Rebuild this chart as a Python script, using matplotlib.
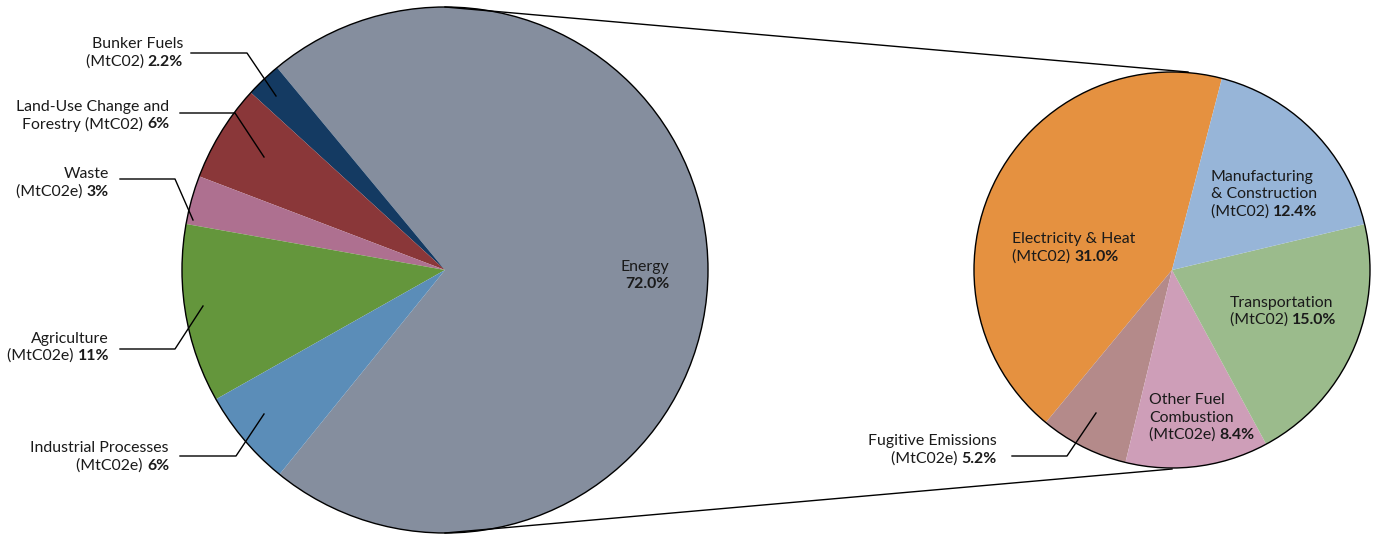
import matplotlib
matplotlib.use("Agg")
import matplotlib.pyplot as plt
from matplotlib.patches import Circle

plt.rcParams['font.family'] = ['Lato', 'DejaVu Sans']

W, H = 1374, 534

# left pie: all sectors
left_names = ['Energy', 'Bunker Fuels', 'Land-Use Change and', 'Waste',
              'Agriculture', 'Industrial Processes']
left_units = ['', '(MtC02)', 'Forestry (MtC02)', '(MtC02e)', '(MtC02e)', '(MtC02e)']
left_vals = [72.0, 2.2, 6, 3, 11, 6]
left_pcts = ['72.0%', '2.2%', '6%', '3%', '11%', '6%']
left_colors = ['#858e9e', '#143a62', '#8a3739', '#ae7090', '#64963c', '#5b8db8']

# right pie: energy breakdown
right_names = ['Electricity & Heat', 'Fugitive Emissions', 'Other Fuel\nCombustion',
               'Transportation', 'Manufacturing\n& Construction']
right_units = ['(MtC02)', '(MtC02e)', '(MtC02e)', '(MtC02)', '(MtC02)']
right_vals = [31.0, 5.2, 8.4, 15.0, 12.4]
right_pcts = ['31.0%', '5.2%', '8.4%', '15.0%', '12.4%']
right_colors = ['#e59140', '#b48a8a', '#ce9eb8', '#9bbb8c', '#97b5d8']

fig = plt.figure(figsize=(W / 100, H / 100), dpi=100)
ax = fig.add_axes([0, 0, 1, 1])

def Y(y):
    return H - y

lc, lr = (445, 270), 263
rc, rr = (1172, 270), 198

ax.pie(left_vals, colors=left_colors, startangle=231, center=(lc[0], Y(lc[1])),
       radius=lr, wedgeprops=dict(linewidth=0))
ax.pie(right_vals, colors=right_colors, startangle=75.4, center=(rc[0], Y(rc[1])),
       radius=rr, wedgeprops=dict(linewidth=0))
ax.add_patch(Circle((lc[0], Y(lc[1])), lr, fill=False, ec='black', lw=1))
ax.add_patch(Circle((rc[0], Y(rc[1])), rr, fill=False, ec='black', lw=1))

# connector lines between the pies
ax.plot([445, 1188], [Y(7), Y(72)], color='black', lw=1)
ax.plot([445, 1172], [Y(533), Y(469)], color='black', lw=1)

ax.set_xlim(0, W)
ax.set_ylim(0, H)
ax.axis('off')

FS = 11.4
TC = '#1a1a1a'
LS = 17.5


def label(x, y_last, name, unit, pct, ha):
    # y_last: pixel center of the last line
    lines = name.split('\n') if unit else []
    if not unit:
        lines = [name]
    n = len(lines)
    for i, ln in enumerate(lines):
        yy = y_last - (n - i) * LS
        ax.text(x, Y(yy), ln, ha=ha, va='center', fontsize=FS, color=TC)
    if ha == 'right':
        b = ax.text(x, Y(y_last), pct, ha='right', va='center', fontsize=FS,
                    fontweight='bold', color=TC)
        if unit:
            ax.annotate(unit + ' ', xy=(0, 0.5), xycoords=b, ha='right', va='center',
                        fontsize=FS, color=TC)
    else:
        u = ax.text(x, Y(y_last), unit + ' ', ha='left', va='center', fontsize=FS, color=TC)
        ax.annotate(pct, xy=(1, 0.5), xycoords=u, ha='left', va='center',
                    fontsize=FS, fontweight='bold', color=TC)


def leader(pts):
    ax.plot([p[0] for p in pts], [Y(p[1]) for p in pts], color='black', lw=1)


# left pie labels
label(669, 284, left_names[0], left_units[0], left_pcts[0], 'right')
label(183, 62, left_names[1], left_units[1], left_pcts[1], 'right')
leader([(191, 53), (247, 53), (276, 96)])
label(169, 124, left_names[2], left_units[2], left_pcts[2], 'right')
leader([(180, 113), (235, 113), (264, 157)])
label(109, 192, left_names[3], left_units[3], left_pcts[3], 'right')
leader([(120, 179), (175, 179), (193, 220)])
label(109, 356, left_names[4], left_units[4], left_pcts[4], 'right')
leader([(120, 349), (175, 349), (203, 306)])
label(169, 466, left_names[5], left_units[5], left_pcts[5], 'right')
leader([(180, 456), (236, 456), (264, 414)])

# right pie labels
label(1012, 257, right_names[0], right_units[0], right_pcts[0], 'left')
label(997, 459, right_names[1], right_units[1], right_pcts[1], 'right')
leader([(1012, 456), (1067, 456), (1096, 413)])
label(1149, 435, right_names[2], right_units[2], right_pcts[2], 'left')
label(1230, 320, right_names[3], right_units[3], right_pcts[3], 'left')
label(1211, 212, right_names[4], right_units[4], right_pcts[4], 'left')

fig.savefig('out.png', dpi=100)
